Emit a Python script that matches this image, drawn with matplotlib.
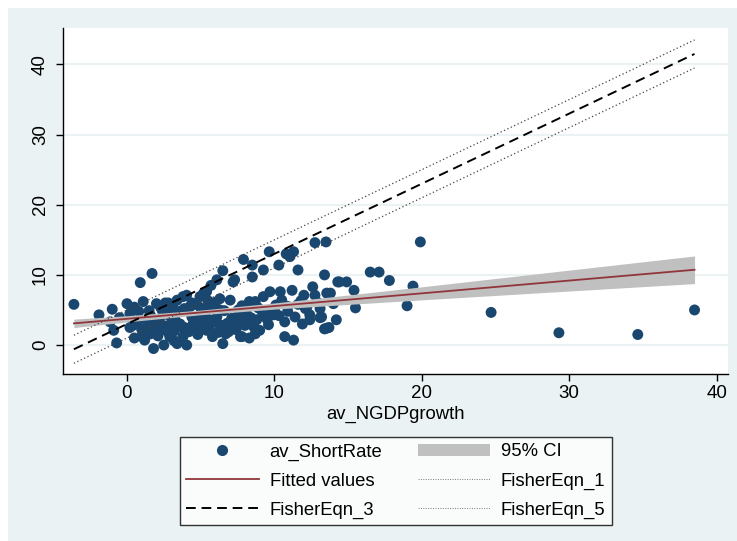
import matplotlib
matplotlib.use('Agg')
import matplotlib.pyplot as plt
from matplotlib.patches import Rectangle, Patch
from matplotlib.lines import Line2D

plt.rcParams['font.family'] = ['Liberation Sans', 'DejaVu Sans']

# scatter: av_NGDPgrowth vs av_ShortRate
growth = [-3.6, -1.9, -1.0, -1.15, -0.9, -0.7, -0.5, 0.0, 0.2, 0.9, 1.7, 0.66, 1.1, 1.3, 1.2,
          1.8, 2.0, 2.2, 2.5, 2.9, 2.9, 3.4, 3.4, 3.8, 4.05, 4.05, 4.5, 4.95, 4.95, 5.4,
          5.4, 5.7, 5.9, 6.1, 6.1, 6.5, 6.5, 6.8, 7.0, 7.2, 7.55, 7.7, 7.9, 8.1, 8.3,
          8.3, 8.5, 8.5, 8.6, 9.65, 10.8, 11.3, 11.05, 12.75, 13.5, 10.3, 9.25, 11.6, 7.3,
          13.4, 9.7, 10.4, 11.2, 12.0, 12.6, 12.75, 13.55, 14.3, 14.0, 9.25, 8.7, 9.9, 10.7,
          11.4, 12.4, 13.2, 14.2, 13.55, 10.7, 11.3, 7.8, 7.2, 8.8, 9.0, 5.6, 5.9, 4.4,
          6.3, 6.3, 5.2, 4.7, 3.8, 5.4, 7.7, 16.5, 17.1, 17.8, 19.4, 19.0, 14.4, 14.9,
          15.4, 15.5, 13.8, 13.1, 12.4, 13.1, 13.4, 13.7, 19.9, 24.7, 29.3, 34.65, 38.5,
          0.4, 0.8, 1.5, 2.4, 3.0, 3.6, 1.0, 1.6, 2.7, 3.2, 4.2, 4.8, 5.1, 5.8, 6.4,
          0.5, 1.9, 2.3, 3.1, 3.7, 4.3, 5.0, 5.6, 6.2, 6.9, 7.4, 8.0, 9.4, 10.1, 10.9,
          11.8, 1.4, 2.1, 2.6, 3.3, 3.9, 4.6, 5.3, 6.0, 6.7, 7.6, 8.9, 9.6, 10.5, 12.2,
          0.2, 0.5, 1.0, 1.4, 1.6, 2.1, 2.4, 2.6, 2.8, 3.0, 3.2, 3.5, 3.6, 3.9, 4.2,
          4.4, 4.7, 5.0, 5.3, 5.5, 5.8, 6.0, 6.3, 6.6, 6.9, 7.1, 7.4, 7.8, 8.0, 8.4,
          8.7, 9.2, 9.5, 10.0, 10.3, 10.9, 11.6, 12.1, 12.9, 11.9]
rate = [5.8, 4.3, 5.1, 3.3, 2.1, 0.3, 3.9, 5.9, 4.5, 8.9, 10.2, 3.1, 6.2, 3.6, 0.7,
        -0.5, 5.9, 3.6, 0.0, 1.2, 4.5, 0.2, 6.4, 1.2, 0.0, 7.1, 3.1, 4.0, 6.9, 7.6,
        2.1, 8.5, 5.5, 9.3, 4.0, 10.6, 0.2, 3.1, 6.4, 9.0, 5.0, 1.2, 12.2, 4.5, 6.2,
        1.0, 11.4, 9.7, 2.6, 13.3, 13.0, 13.3, 12.6, 14.6, 14.7, 11.4, 10.7, 10.7, 9.3,
        10.0, 7.6, 7.6, 7.8, 7.1, 8.3, 7.1, 7.4, 9.0, 5.9, 6.9, 6.2, 4.3, 3.3,
        4.0, 4.3, 4.0, 3.6, 2.4, 1.2, 0.7, 1.2, 2.6, 3.6, 2.1, 2.1, 3.3, 4.0,
        5.0, 6.6, 7.4, 5.9, 6.9, 5.0, 4.3, 10.4, 10.4, 9.2, 8.4, 5.6, 9.0, 9.0,
        7.8, 5.3, 7.4, 5.2, 3.6, 3.9, 2.3, 2.5, 14.7, 4.65, 1.75, 1.5, 5.0,
        2.8, 4.8, 4.9, 5.2, 3.0, 2.6, 2.2, 1.6, 2.0, 0.6, 2.4, 1.5, 4.6, 3.4, 2.8,
        5.4, 2.9, 5.3, 5.6, 4.9, 5.5, 2.8, 3.6, 1.8, 2.6, 3.9, 3.2, 4.6, 5.7, 4.8,
        6.3, 1.8, 1.3, 6.0, 3.4, 2.5, 5.8, 4.2, 6.1, 1.6, 3.4, 5.3, 2.9, 6.4, 5.4,
        2.5, 1.0, 1.2, 2.8, 4.2, 1.9, 4.9, 2.7, 6.0, 3.9, 2.0, 4.7, 3.0, 5.2, 1.9,
        6.0, 2.6, 5.3, 3.2, 6.3, 1.2, 3.6, 2.4, 4.9, 1.9, 3.8, 2.2, 5.6, 2.8, 3.9,
        1.6, 4.6, 3.7, 5.0, 4.2, 5.5, 5.8, 5.2, 6.1, 3.0]

# linear fit and its 95% CI, read at a few growth values
fit_x = [-3.6, 0, 5, 10, 15, 20, 25, 30, 38.5]
fit_y = [3.09, 3.74, 4.65, 5.56, 6.46, 7.37, 8.28, 9.19, 10.73]
ci_lo = [2.49, 3.30, 4.32, 5.12, 5.79, 6.44, 7.07, 7.70, 8.76]
ci_hi = [3.69, 4.18, 4.98, 6.00, 7.13, 8.30, 9.49, 10.68, 12.70]

# Fisher equation lines
fisher_x = [-3.6, 38.5]
fisher1 = [-2.6, 39.5]
fisher3 = [-0.6, 41.5]
fisher5 = [1.4, 43.5]

xticks = [0, 10, 20, 30, 40]
yticks = [0, 10, 20, 30, 40]

navy = '#1A476F'
maroon = '#90353B'
ci_gray = '#C0C0C0'
bg = '#EAF2F3'

fig = plt.figure(figsize=(7.37, 5.41), dpi=100)
fig.patch.set_facecolor('white')
fig.patches.append(Rectangle((8 / 737, 0), 1, (541 - 8) / 541, transform=fig.transFigure,
                             facecolor=bg, edgecolor='none', zorder=-10))

ax = fig.add_axes([63 / 737, (541 - 374) / 541, (728 - 63) / 737, (374 - 28) / 541])
ax.set_facecolor('white')

ax.scatter(growth, rate, s=62, color=navy, edgecolors='none', zorder=2)
ax.fill_between(fit_x, ci_lo, ci_hi, color=ci_gray, linewidth=0, zorder=3)
ax.plot(fit_x, fit_y, color=maroon, lw=1.3, zorder=4)
ax.plot(fisher_x, fisher1, color='#444444', lw=0.9, ls=(0, (1, 2)), zorder=5)
ax.plot(fisher_x, fisher3, color='black', lw=1.4, ls=(0, (5, 3)), zorder=5)
ax.plot(fisher_x, fisher5, color='#444444', lw=0.9, ls=(0, (1, 2)), zorder=5)

ax.set_xlim(-4.34, 40.77)
ax.set_ylim(-4.13, 45.2)
ax.set_xticks(xticks)
ax.set_yticks(yticks)
ax.grid(axis='y', color=bg, lw=1.5, zorder=0)
ax.set_axisbelow(True)
for s in ['top', 'right']:
    ax.spines[s].set_visible(False)
for s in ['left', 'bottom']:
    ax.spines[s].set_linewidth(1.0)
ax.tick_params(axis='both', length=5, width=1.0, labelsize=13.5)
ax.tick_params(axis='x', pad=3)
ax.tick_params(axis='y', pad=5, labelrotation=90)
for lab in ax.get_yticklabels():
    lab.set_va('center')
ax.set_xlabel('av_NGDPgrowth', fontsize=13.3, labelpad=3)

handles = [
    Line2D([], [], ls='none', marker='o', markersize=7, color=navy),
    Line2D([], [], color=maroon, lw=1.3),
    Line2D([], [], color='black', lw=1.4, ls=(0, (5, 3))),
    Patch(facecolor=ci_gray, edgecolor='none'),
    Line2D([], [], color='#777777', lw=0.7, ls=(0, (1, 1.5))),
    Line2D([], [], color='#777777', lw=0.7, ls=(0, (1, 1.5))),
]
labels = ['av_ShortRate', 'Fitted values', 'FisherEqn_3', '95% CI', 'FisherEqn_1', 'FisherEqn_5']
leg = ax.legend(handles, labels, ncol=2, loc='center',
                bbox_to_anchor=(180 / 737, 14 / 541, 432 / 737, 92 / 541),
                bbox_transform=fig.transFigure, mode='expand', borderaxespad=0,
                fontsize=13.3, frameon=True, fancybox=False, handlelength=3.9,
                handletextpad=0.6, labelspacing=0.64, borderpad=0.35, columnspacing=1.5)
leg.get_frame().set_edgecolor('black')
leg.get_frame().set_linewidth(1.0)

fig.savefig('out.png', dpi=100, facecolor=fig.get_facecolor())
